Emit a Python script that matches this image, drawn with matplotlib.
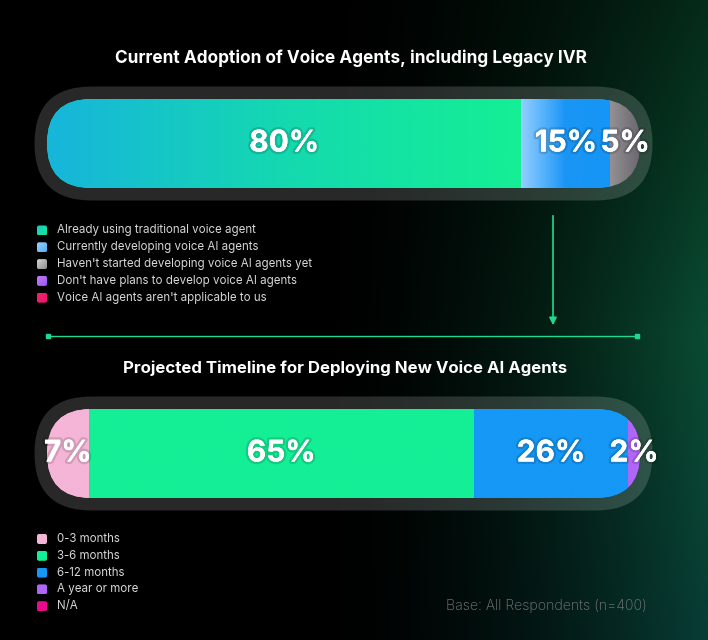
import numpy as np
import matplotlib.pyplot as plt
from matplotlib.patches import FancyBboxPatch
from matplotlib.colors import LinearSegmentedColormap
import matplotlib.patheffects as pe

plt.rcParams['font.family'] = ['Inter', 'DejaVu Sans']

top_title = "Current Adoption of Voice Agents, including Legacy IVR"
top_labels = ["Already using traditional voice agent",
              "Currently developing voice AI agents",
              "Haven't started developing voice AI agents yet",
              "Don't have plans to develop voice AI agents",
              "Voice AI agents aren't applicable to us"]
top_values = [80, 15, 5, 0, 0]
top_colors = [["#17b5db", "#14d9b0", "#14ef94"],
              ["#93cfff", "#1a95f6", "#1595f5"],
              ["#939096", "#7e7b81", "#6b6870"],
              ["#b970f9", "#ac63f6", "#a55cf5"],
              ["#f23a52", "#f0185c", "#e8127a"]]
top_legend_colors = [["#1cc8c2", "#14eb98"],
                     ["#9ad2ff", "#55adf8"],
                     ["#d4d4d4", "#8e8e8e"],
                     ["#c07cfa", "#9e56f2"],
                     ["#f4285a", "#e8127a"]]

bottom_title = "Projected Timeline for Deploying New Voice AI Agents"
bottom_labels = ["0-3 months", "3-6 months", "6-12 months", "A year or more", "N/A"]
bottom_values = [7, 65, 26, 2, 0]
bottom_colors = [["#f5b5d7"] * 3,
                 ["#14ef96"] * 3,
                 ["#1598f6"] * 3,
                 ["#b066f7"] * 3,
                 ["#ec0a8c"] * 3]
bottom_legend_colors = [["#f5b5d7"] * 2,
                        ["#14ef96"] * 2,
                        ["#1598f6"] * 2,
                        ["#b066f7"] * 2,
                        ["#ec0a8c"] * 2]

base_note = "Base: All Respondents (n=400)"

W, H = 708, 640
fig = plt.figure(figsize=(W / 100, H / 100), dpi=100)
ax = fig.add_axes([0, 0, 1, 1])

# background: black with a green glow on the right
yy, xx = np.mgrid[0:H, 0:W]
gx = (np.clip((xx - 300) / (W - 300), 0, 1) ** 1.8)[..., None]
t = yy / H
top_c = np.array([0.02, 0.17, 0.10])
mid_c = np.array([0.04, 0.30, 0.20])
bot_c = np.array([0.03, 0.24, 0.21])
w_top = np.clip(1 - t / 0.52, 0, 1)[..., None]
w_bot = np.clip((t - 0.52) / 0.48, 0, 1)[..., None]
w_mid = 1 - w_top - w_bot
bg = gx * (w_top * top_c + w_mid * mid_c + w_bot * bot_c)
ax.imshow(bg, extent=(0, W, H, 0), aspect='auto', zorder=0)
ax.set_xlim(0, W)
ax.set_ylim(H, 0)
ax.axis('off')

label_fx = [pe.withStroke(linewidth=3.5, foreground=(0, 0, 0, 0.14)), pe.Normal()]


def draw_bar(top, values, colors):
    x0, x1 = 47, 640
    y0, y1 = top, top + 89
    r = (y1 - y0) / 2
    pad = 12.5
    shell = FancyBboxPatch((x0 - pad, y0 - pad), x1 - x0 + 2 * pad, y1 - y0 + 2 * pad,
                           boxstyle=f"round,pad=0,rounding_size={r + pad}",
                           fc=(1, 1, 1, 0.16), ec='none', zorder=2)
    ax.add_patch(shell)
    clip = FancyBboxPatch((x0, y0), x1 - x0, y1 - y0,
                          boxstyle=f"round,pad=0,rounding_size={r}",
                          fc='none', ec='none', zorder=3)
    ax.add_patch(clip)

    bax = fig.add_axes([x0 / W, 1 - y1 / H, (x1 - x0) / W, (y1 - y0) / H])
    lefts = np.concatenate([[0], np.cumsum(values)[:-1]])
    bars = bax.barh(0, values, left=lefts, height=1, color=[c[-1] for c in colors])
    for bar, v, left, cols in zip(bars, values, lefts, colors):
        bar.set_clip_path(clip)
        if v <= 0:
            continue
        cmap = LinearSegmentedColormap.from_list('seg', cols)
        im = bax.imshow(np.linspace(0, 1, 256)[None, :], cmap=cmap,
                        extent=(left, left + v, -0.5, 0.5), aspect='auto', zorder=2)
        im.set_clip_path(clip)
        bax.text(left + v / 2, 0.0, f"{v}%", color='white', fontsize=21.5,
                 fontweight='bold', ha='center', va='center', zorder=5, clip_on=False,
                 path_effects=label_fx)
    bax.set_xlim(0, sum(values))
    bax.set_ylim(-0.5, 0.5)
    bax.axis('off')


def draw_legend(top, labels, colors):
    grad = np.linspace(0, 1, 32)
    grad = (grad[None, :] + grad[:, None]) / 2
    for i, (lab, cols) in enumerate(zip(labels, colors)):
        yc = top + i * 16.8
        sq = FancyBboxPatch((37, yc - 5), 10, 10, boxstyle="round,pad=0,rounding_size=2",
                            fc='none', ec='none', zorder=4)
        ax.add_patch(sq)
        cmap = LinearSegmentedColormap.from_list('leg', cols)
        im = ax.imshow(grad, cmap=cmap, extent=(37, 47, yc + 5, yc - 5),
                       aspect='auto', zorder=4)
        im.set_clip_path(sq)
        ax.text(57, yc, lab, color='#d6d6d6', fontsize=8.3, ha='left', va='center', zorder=4)


ax.text(351, 58, top_title, color='white', fontsize=12.4, fontweight='bold',
        ha='center', va='center', zorder=4)
draw_bar(99, top_values, top_colors)
draw_legend(230.5, top_labels, top_legend_colors)

# connector arrow
line_c = '#1fd98f'
ax.annotate('', xy=(553, 328), xytext=(553, 213),
            arrowprops=dict(arrowstyle='-|>', color=line_c, lw=1.2, mutation_scale=11),
            zorder=4)
ax.plot([48, 637], [336, 336], color=line_c, lw=1.0, zorder=4)
ax.plot([48, 637], [336, 336], ls='none', marker='s', ms=3, color=line_c, zorder=4)

ax.text(345, 368, bottom_title, color='white', fontsize=12.1, fontweight='bold',
        ha='center', va='center', zorder=4)
draw_bar(409, bottom_values, bottom_colors)
draw_legend(539, bottom_labels, bottom_legend_colors)

ax.text(546, 606, base_note, color='#7c7c7c', fontsize=10.2, fontweight='light',
        ha='center', va='center', zorder=4)

ax.set_xlim(0, W)
ax.set_ylim(H, 0)
fig.savefig('out.png', dpi=100, facecolor='black')
